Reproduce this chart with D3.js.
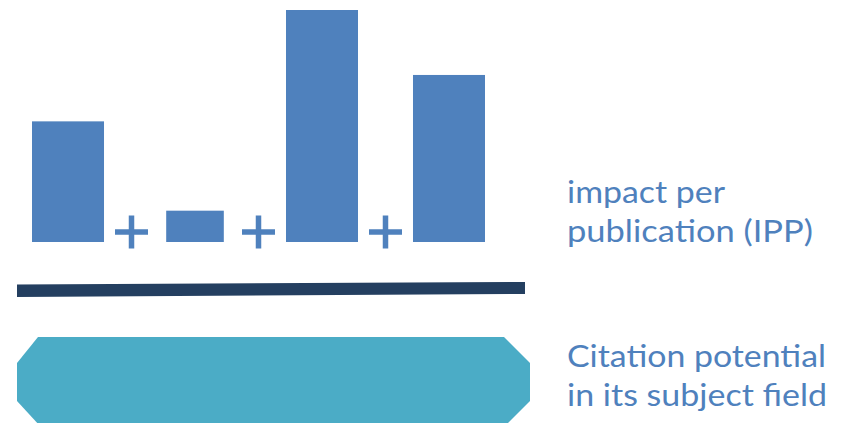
<!DOCTYPE html>
<html>
<head>
<meta charset="utf-8">
<script src="https://cdn.jsdelivr.net/npm/d3@7"></script>
<style>
  html, body { margin: 0; padding: 0; background: #fff; }
  svg { display: block; }
</style>
</head>
<body>
<div id="chart"></div>
<script>
// ---- data ----
const categories = ["Year 1", "Year 2", "Year 3", "Year 4"];
const values = [5.2, 1.35, 10, 7.2];
const barWidthFactor = [1, 0.8, 1, 1];
const numeratorLabel = ["impact per", "publication (IPP)"];
const denominatorLabel = ["Citation potential", "in its subject field"];

// ---- layout ----
const W = 845, H = 423;
const blue = "#4F81BD", navy = "#243F60", aqua = "#4BACC6";

const svg = d3.select("#chart").append("svg")
  .attr("width", W).attr("height", H);

const x = d3.scaleBand().domain(categories).range([32, 485]).paddingInner(0.433).paddingOuter(0);
const y = d3.scaleLinear().domain([0, 10]).range([242, 10]);

// bars
svg.append("g").selectAll("rect").data(values).join("rect")
  .attr("x", (d, i) => x(categories[i]) + x.bandwidth() * (1 - barWidthFactor[i]) / 2)
  .attr("width", (d, i) => x.bandwidth() * barWidthFactor[i])
  .attr("y", d => y(d))
  .attr("height", d => y(0) - y(d))
  .attr("fill", blue);

// plus signs between bars
const gaps = d3.range(categories.length - 1).map(i => {
  const right = x(categories[i]) + x.bandwidth();
  const left = x(categories[i + 1]);
  return (right + left) / 2;
});
const arm = 16.5, thick = 5.5;
const plus = svg.append("g").selectAll("g").data(gaps).join("g")
  .attr("transform", d => `translate(${d},${y(0) - 10})`);
plus.append("rect").attr("x", -arm).attr("y", -thick / 2).attr("width", arm * 2).attr("height", thick).attr("fill", blue);
plus.append("rect").attr("x", -thick / 2).attr("y", -arm).attr("width", thick).attr("height", arm * 2).attr("fill", blue);

// fraction line (slightly tilted)
svg.append("path")
  .attr("d", d3.line()([[17, 284.5], [525, 282], [525, 294], [17, 297]]) + "Z")
  .attr("fill", navy);

// denominator octagon
svg.append("path")
  .attr("d", d3.line()([[38, 337], [504, 337], [530, 363], [530, 401], [505, 426], [40, 426], [17, 401], [17, 363]]) + "Z")
  .attr("fill", aqua);

// labels
const font = "Lato, 'Open Sans', sans-serif";
const textRows = [
  { t: numeratorLabel[0], y: 203, w: 158 },
  { t: numeratorLabel[1], y: 242, w: 246 },
  { t: denominatorLabel[0], y: 367, w: 259 },
  { t: denominatorLabel[1], y: 406, w: 260 }
];
svg.append("g").selectAll("text").data(textRows).join("text")
  .attr("x", 567).attr("y", d => d.y)
  .attr("font-family", font)
  .attr("font-size", 30)
  .attr("fill", blue)
  .attr("textLength", d => d.w)
  .attr("lengthAdjust", "spacingAndGlyphs")
  .text(d => d.t);
</script>
</body>
</html>
